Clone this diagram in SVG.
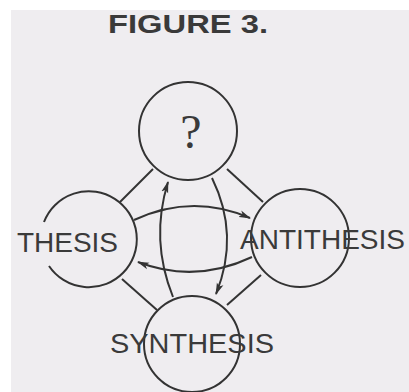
<svg xmlns="http://www.w3.org/2000/svg" width="409" height="392" viewBox="0 0 409 392">
<defs>
<style>
.bg{fill:#efedf0}
.ln{fill:none;stroke:#333;stroke-width:2}
.lbl{font-family:"Liberation Sans",Arial,sans-serif;font-size:28px;fill:#3a3a3a}
.ttl{font-family:"Liberation Sans",Arial,sans-serif;font-size:25px;font-weight:bold;fill:#3a3a3a}
</style>
<marker id="ah" viewBox="0 0 12 8" refX="11" refY="4" markerWidth="12" markerHeight="8" markerUnits="userSpaceOnUse" orient="auto">
<path d="M0,0.5 L12,4 L0,7.5 L3,4 Z" fill="#333"/>
</marker>
</defs>
<rect x="0" y="0" width="409" height="392" fill="#ffffff"/>
<rect class="bg" x="11" y="10" width="398" height="382"/>
<text class="ttl" x="108" y="33" textLength="160" lengthAdjust="spacingAndGlyphs">FIGURE 3.</text>
<g id="connectors">
<line class="ln" x1="153" y1="169" x2="120" y2="202"/>
<line class="ln" x1="227" y1="169" x2="263" y2="202"/>
<line class="ln" x1="122" y1="279" x2="157" y2="310"/>
<line class="ln" x1="261" y1="275" x2="227" y2="305"/>
<path class="ln" d="M134,220 Q192,193 250,218" marker-end="url(#ah)"/>
<path class="ln" d="M252,257 Q195,284 138,262" marker-end="url(#ah)"/>
<path class="ln" d="M173,297 Q150,240 168,182" marker-end="url(#ah)"/>
<path class="ln" d="M212,178 Q240,235 216,294" marker-end="url(#ah)"/>
</g>
<g id="node-question">
<circle class="ln" cx="188" cy="131" r="49"/>
<text x="191" y="148" text-anchor="middle" font-family="Liberation Serif,serif" font-size="48" fill="#3a3a3a">?</text>
</g>
<g id="node-thesis">
<path class="ln" d="M44,222 A48,48 0 1 1 49,266"/>
<text class="lbl" x="17" y="252" textLength="101" lengthAdjust="spacingAndGlyphs">THESIS</text>
</g>
<g id="node-antithesis">
<circle class="ln" cx="300" cy="238" r="49"/>
<text class="lbl" x="240" y="249" textLength="165" lengthAdjust="spacingAndGlyphs">ANTITHESIS</text>
</g>
<g id="node-synthesis">
<circle class="ln" cx="192" cy="344" r="48"/>
<text class="lbl" x="110" y="353" textLength="164" lengthAdjust="spacingAndGlyphs">SYNTHESIS</text>
</g>
</svg>
